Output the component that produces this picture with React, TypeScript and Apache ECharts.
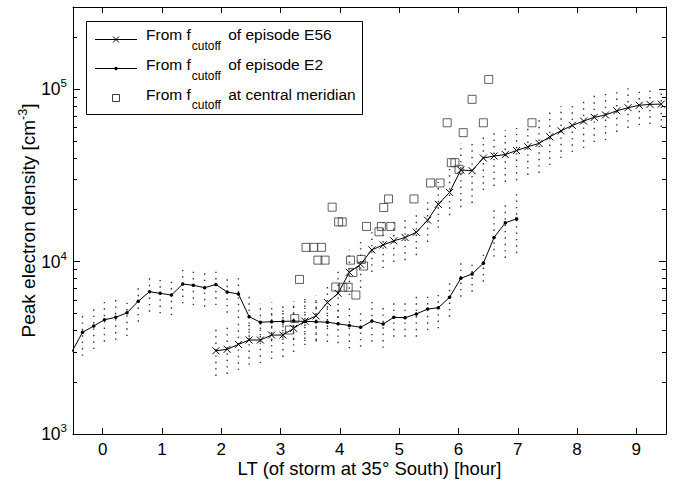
import React, { useEffect, useRef } from "react";
import * as echarts from "echarts";

const FONT = "'Liberation Sans', Arial, Helvetica, sans-serif";

// episode E2: LT [hour], density and spread (first sample lies left of the axis)
const e2Hours = [
  -0.53, -0.34, -0.15, 0.03, 0.22, 0.41, 0.6, 0.79, 0.97, 1.16, 1.35, 1.53,
  1.72, 1.91, 2.1, 2.29, 2.47, 2.66, 2.85, 3.04, 3.22, 3.41, 3.6, 3.79, 3.97,
  4.16, 4.35, 4.54, 4.73, 4.91, 5.1, 5.29, 5.48, 5.66, 5.85, 6.04, 6.23, 6.42,
  6.6, 6.79, 6.98,
];
const e2Density = [
  2950, 3890, 4230, 4600, 4750, 5050, 5890, 6690, 6550, 6400, 7410, 7290,
  7060, 7370, 6660, 6490, 4790, 4450, 4480, 4500, 4520, 4500, 4480, 4450, 4360,
  4260, 4160, 4520, 4350, 4750, 4730, 4970, 5310, 5400, 6210, 8000, 8480, 9780,
  13800, 16800, 17700,
];
const e2Low = [
  2300, 2840, 3110, 3430, 3520, 3700, 4480, 5120, 5010, 4900, 5730, 5600,
  5480, 5600, 5050, 4710, 3670, 3430, 3450, 3510, 3510, 3460, 3440, 3420, 3360,
  3140, 3210, 3430, 3160, 3670, 3670, 3670, 4010, 4100, 4790, 6260, 6690, 7650,
  10700, 10500, 11200,
];
const e2High = [
  3800, 5050, 5480, 6050, 6180, 6130, 7320, 8360, 8170, 7890, 9340, 9150,
  8860, 9270, 8360, 8140, 6260, 5750, 5800, 5850, 5900, 5990, 5950, 5900, 5480,
  5480, 5240, 5850, 5600, 6130, 6130, 6550, 6550, 6690, 7820, 10200, 10200,
  11700, 19900, 21300, 24900,
];

// episode E56
const e56Hours = [
  1.91, 2.1, 2.29, 2.47, 2.66, 2.85, 3.04, 3.22, 3.41, 3.6, 3.79, 3.97, 4.16,
  4.35, 4.54, 4.73, 4.91, 5.1, 5.29, 5.48, 5.66, 5.85, 6.04, 6.23, 6.42, 6.6,
  6.79, 6.98, 7.17, 7.36, 7.54, 7.73, 7.92, 8.11, 8.29, 8.48, 8.67, 8.86, 9.05,
  9.23, 9.42,
];
const e56Density = [
  3040, 3100, 3310, 3510, 3510, 3750, 3750, 4100, 4520, 4840, 5790, 6550, 8670,
  9650, 11700, 12500, 13200, 13800, 14800, 17400, 21500, 25200, 34000, 33700,
  39900, 41000, 41800, 44100, 46400, 48500, 53000, 57400, 61700, 65400, 68700,
  70900, 75000, 78100, 80700, 81700, 82000,
];
const e56Low = [
  2170, 2230, 2350, 2520, 2580, 2720, 2800, 2990, 3280, 3510, 4180, 4710, 6400,
  7030, 8710, 9180, 9950, 10200, 10900, 13000, 15700, 18600, 20700, 21900,
  26000, 27500, 29000, 29700, 31800, 32700, 36300, 39900, 43200, 45600, 49400,
  50700, 56500, 59600, 62000, 62800, 60400,
];
const e56High = [
  4160, 4290, 4400, 4590, 4710, 5040, 5240, 5830, 6150, 6400, 7620, 8940,
  11700, 13000, 15700, 17000, 17900, 18600, 19900, 23400, 29000, 34900, 48800,
  48800, 54200, 57300, 58000, 59600, 62800, 69000, 73800, 79900, 84300, 88900,
  92500, 96400, 98900, 101600, 101600, 101600, 100200,
];

// f_cutoff at central meridian
const cmHours = [
  3.15, 3.24, 3.32, 3.43, 3.56, 3.69, 3.63, 3.75, 3.87, 3.93, 3.98, 4.04, 4.05,
  4.14, 4.18, 4.22, 4.27, 4.36, 4.4, 4.45, 4.66, 4.7, 4.74, 4.82, 4.86, 5.25,
  5.53, 5.69, 5.81, 5.88, 5.94, 6.01, 6.08, 6.23, 6.42, 6.51, 7.24,
];
const cmDensity = [
  4010, 4670, 7880, 12100, 12100, 12100, 10200, 10200, 20700, 7120, 17000,
  17000, 7100, 7100, 10200, 8650, 6400, 10300, 9430, 16000, 14900, 16000, 20600,
  23100, 16000, 23100, 28600, 28600, 63900, 37500, 37500, 34300, 56000, 87400,
  63900, 114000, 63900,
];

const xTicks = [0, 1, 2, 3, 4, 5, 6, 7, 8, 9];
const yMajorTicks = [1000, 10000, 100000];
const yMinorTicks = [
  2000, 3000, 4000, 5000, 6000, 7000, 8000, 9000, 20000, 30000, 40000, 50000,
  60000, 70000, 80000, 90000, 200000,
];

const App: React.FC = () => {
  const chartRef = useRef<HTMLDivElement>(null);

  useEffect(() => {
    if (!chartRef.current) return;
    const chart = echarts.init(chartRef.current, undefined, { renderer: "svg" });

    const pairs = (xs: number[], ys: number[]) => xs.map((x, i) => [x, ys[i]]);
    const ranges = (xs: number[], lo: number[], hi: number[]) =>
      xs.map((x, i) => [x, lo[i], hi[i]]);

    // dotted vertical spread at each sample
    const renderSpread = (_params: any, api: any) => {
      const x = api.value(0);
      const lo = api.coord([x, api.value(1)]);
      const hi = api.coord([x, api.value(2)]);
      return {
        type: "line",
        shape: { x1: lo[0], y1: lo[1], x2: hi[0], y2: hi[1] },
        style: { stroke: "#333", lineWidth: 1.4, lineDash: [1.4, 5] },
      };
    };

    const black = { color: "#000", width: 1 };
    const supRich = {
      b: { fontSize: 17.5, fontFamily: FONT, color: "#000", lineHeight: 18 },
      s: {
        fontSize: 11.5,
        fontFamily: FONT,
        color: "#000",
        lineHeight: 12,
        padding: [0, 0, 12, 0],
      },
    };
    const yCommon = {
      type: "log" as const,
      logBase: 10,
      min: 1000,
      max: 300000,
      splitLine: { show: false },
    };
    const xCommon = {
      type: "value" as const,
      min: -0.5,
      max: 9.5,
      splitLine: { show: false },
    };

    const option: any = {
      animation: false,
      backgroundColor: "#fff",
      grid: {
        left: 73,
        right: 10,
        top: 7,
        bottom: 47,
        containLabel: false,
        outerBoundsMode: "none",
      },
      xAxis: [
        {
          ...xCommon,
          position: "bottom",
          axisLine: { onZero: false, lineStyle: black },
          axisTick: {
            inside: true,
            length: 6,
            customValues: xTicks,
            lineStyle: black,
          },
          axisLabel: {
            customValues: xTicks,
            margin: 7,
            fontSize: 17,
            lineHeight: 17,
            fontFamily: FONT,
            color: "#000",
          },
          name: "LT (of storm at 35° South) [hour]",
          nameLocation: "middle",
          nameGap: 25,
          nameMoveOverlap: false,
          nameTextStyle: {
            fontSize: 18.5,
            lineHeight: 19,
            fontFamily: FONT,
            color: "#000",
          },
        },
        {
          ...xCommon,
          position: "top",
          axisLine: { onZero: false, lineStyle: black },
          axisTick: {
            inside: true,
            length: 6,
            customValues: xTicks,
            lineStyle: black,
          },
          axisLabel: { show: false },
        },
      ],
      yAxis: [
        {
          ...yCommon,
          position: "left",
          axisLine: { onZero: false, lineStyle: black },
          axisTick: {
            inside: true,
            length: 7,
            customValues: yMajorTicks,
            lineStyle: black,
          },
          axisLabel: {
            customValues: yMajorTicks,
            margin: 6,
            formatter: (v: number) => {
              const e = Math.log10(v);
              return Math.abs(e - Math.round(e)) < 1e-6
                ? `{b|10}{s|${Math.round(e)}}`
                : "";
            },
            rich: supRich,
          },
          name: "Peak electron density [cm{s|-3}]",
          nameLocation: "middle",
          nameGap: 35,
          nameMoveOverlap: false,
          nameTextStyle: {
            fontSize: 19,
            fontFamily: FONT,
            color: "#000",
            rich: {
              s: {
                fontSize: 12.5,
                fontFamily: FONT,
                color: "#000",
                lineHeight: 13,
                padding: [0, 0, 12, 0],
              },
            },
          },
        },
        {
          ...yCommon,
          position: "left",
          axisLine: { show: false, onZero: false },
          axisTick: {
            inside: true,
            length: 4,
            customValues: yMinorTicks,
            lineStyle: black,
          },
          axisLabel: { show: false },
        },
        {
          ...yCommon,
          position: "right",
          axisLine: { onZero: false, lineStyle: black },
          axisTick: {
            inside: true,
            length: 7,
            customValues: yMajorTicks,
            lineStyle: black,
          },
          axisLabel: { show: false },
        },
        {
          ...yCommon,
          position: "right",
          axisLine: { show: false, onZero: false },
          axisTick: {
            inside: true,
            length: 4,
            customValues: yMinorTicks,
            lineStyle: black,
          },
          axisLabel: { show: false },
        },
      ],
      series: [
        {
          name: "E2 spread",
          type: "custom",
          renderItem: renderSpread,
          data: ranges(e2Hours, e2Low, e2High),
          encode: { x: 0, y: [1, 2] },
          clip: true,
          silent: true,
          z: 1,
        },
        {
          name: "E56 spread",
          type: "custom",
          renderItem: renderSpread,
          data: ranges(e56Hours, e56Low, e56High),
          encode: { x: 0, y: [1, 2] },
          clip: true,
          silent: true,
          z: 1,
        },
        {
          name: "From f_cutoff of episode E2",
          type: "line",
          data: pairs(e2Hours, e2Density),
          symbol: "circle",
          symbolSize: 3.5,
          showAllSymbol: true,
          clip: true,
          lineStyle: { color: "#000", width: 1 },
          itemStyle: { color: "#000", borderWidth: 0 },
          z: 3,
        },
        {
          name: "From f_cutoff of episode E56",
          type: "line",
          data: pairs(e56Hours, e56Density),
          symbol: "path://M0,0L10,10M10,0L0,10",
          symbolSize: 7,
          showAllSymbol: true,
          clip: true,
          lineStyle: { color: "#000", width: 1 },
          itemStyle: { color: "#000", borderColor: "#000", borderWidth: 1 },
          z: 3,
        },
        {
          name: "From f_cutoff at central meridian",
          type: "scatter",
          data: pairs(cmHours, cmDensity),
          symbol: "rect",
          symbolSize: 8,
          itemStyle: {
            color: "rgba(0,0,0,0)",
            borderColor: "#3a3a3a",
            borderWidth: 1,
          },
          z: 4,
        },
      ],
      graphic: [
        {
          type: "group",
          z: 100,
          children: [
            {
              type: "rect",
              shape: { x: 86.5, y: 21.5, width: 276, height: 93 },
              style: { fill: "#fff", stroke: "#000", lineWidth: 1 },
            },
            {
              type: "line",
              shape: { x1: 95, y1: 39.5, x2: 137, y2: 39.5 },
              style: { stroke: "#000", lineWidth: 1 },
            },
            {
              type: "line",
              shape: { x1: 113, y1: 36.5, x2: 119, y2: 42.5 },
              style: { stroke: "#000", lineWidth: 1 },
            },
            {
              type: "line",
              shape: { x1: 113, y1: 42.5, x2: 119, y2: 36.5 },
              style: { stroke: "#000", lineWidth: 1 },
            },
            {
              type: "line",
              shape: { x1: 95, y1: 68.5, x2: 137, y2: 68.5 },
              style: { stroke: "#000", lineWidth: 1 },
            },
            {
              type: "circle",
              shape: { cx: 116, cy: 68.5, r: 1.7 },
              style: { fill: "#000" },
            },
            {
              type: "rect",
              shape: { x: 112.5, y: 94.5, width: 7, height: 7 },
              style: { fill: "none", stroke: "#3a3a3a", lineWidth: 1 },
            },
            ...[
              ["From f{sub|cutoff} of episode E56", 34.5],
              ["From f{sub|cutoff} of episode E2", 64.5],
              ["From f{sub|cutoff} at central meridian", 94],
            ].map(([text, y]) => ({
              type: "text",
              x: 146,
              y: y as number,
              style: {
                text: text as string,
                fontSize: 15.5,
                fontFamily: FONT,
                fill: "#000",
                lineHeight: 16,
                verticalAlign: "middle",
                rich: {
                  sub: {
                    fontSize: 12,
                    fontFamily: FONT,
                    fill: "#000",
                    lineHeight: 12,
                    padding: [22, 3, 0, 1],
                  },
                },
              },
            })),
          ],
        },
      ],
    };

    chart.setOption(option);

    return () => {
      chart.dispose();
    };
  }, []);

  return (
    <div
      ref={chartRef}
      style={{
        position: "fixed",
        left: 0,
        top: 0,
        width: 676,
        height: 481,
        background: "#fff",
      }}
    />
  );
};

export default App;
